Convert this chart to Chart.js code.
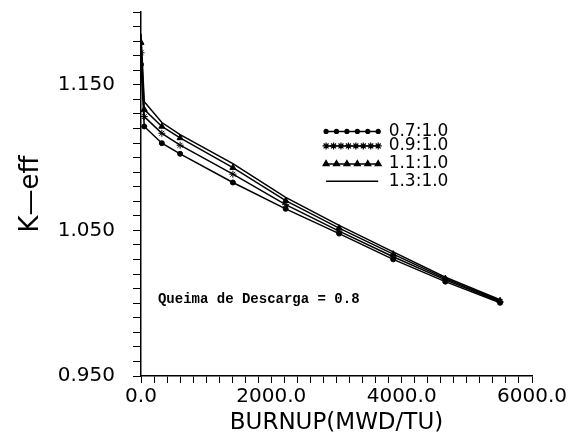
<!DOCTYPE html>
<html>
<head>
<meta charset="utf-8">
<script src="https://cdn.jsdelivr.net/npm/chart.js@4/dist/chart.umd.min.js"></script>
<style>
    body { margin: 0; background: #fff; }
    canvas { display: block; }
</style>
</head>
<body>
<canvas id="keffChart" width="581" height="439"></canvas>
<script>
// Burnup (MWD/TU) de cada punto
const burnup = [0, 50, 320, 600, 1410, 2220, 3040, 3870, 4670, 5510];

// K-eff para cada relación
const ratio07 = [1.164, 1.1214, 1.1099, 1.1026, 1.0829, 1.0648, 1.0478, 1.0301, 1.0148, 1.0003];
const ratio09 = [1.172, 1.1282, 1.1167, 1.1085, 1.0886, 1.0677, 1.0495, 1.0319, 1.0160, 1.0010];
const ratio11 = [1.179, 1.1330, 1.1214, 1.1135, 1.0931, 1.0704, 1.0516, 1.0337, 1.0169, 1.0017];
const ratio13 = [1.185, 1.1384, 1.1241, 1.1158, 1.0958, 1.0727, 1.0534, 1.0352, 1.0178, 1.0024];

const seriesLabels = ['0.7:1.0', '0.9:1.0', '1.1:1.0', '1.3:1.0'];
const yMajorLabels = [0.950, 1.050, 1.150];
const xMajorLabels = [0, 2000, 4000, 6000];
const noteText = 'Queima de Descarga = 0.8';

const toPoints = arr => arr.map((v, i) => ({ x: burnup[i], y: v }));

// Estilo común de las series
const commonDatasetConfig = {
    borderColor: '#000',
    backgroundColor: '#000',
    borderWidth: 1.5,
    pointBorderColor: '#000',
    pointBackgroundColor: '#000',
    tension: 0,
    fill: false
};

const markers = ['circle', 'star', 'triangle', false];
const markerSize = [2.5, 3.5, 3.5, 0];

// Leyenda dibujada a mano dentro del área del gráfico
const legendPlugin = {
    id: 'manualLegend',
    afterDatasetsDraw(chart) {
        const { ctx, scales: { x, y } } = chart;
        const x0 = x.getPixelForValue(2840);
        const x1 = x.getPixelForValue(3640);
        const tx = x.getPixelForValue(3800);
        const rows = [1.118, 1.108, 1.0956, 1.0837];
        ctx.save();
        rows.forEach((rv, i) => {
            const py = y.getPixelForValue(rv);
            ctx.strokeStyle = '#000';
            ctx.lineWidth = 1.5;
            ctx.beginPath();
            ctx.moveTo(x0, py);
            ctx.lineTo(x1, py);
            ctx.stroke();
            if (markers[i]) {
                const n = markers[i] === 'star' ? 8 : 6;
                for (let k = 0; k < n; k++) {
                    const px = x0 + (x1 - x0) * k / (n - 1);
                    ctx.fillStyle = '#000';
                    ctx.lineWidth = 1.2;
                    Chart.helpers.drawPoint(ctx, {
                        pointStyle: markers[i],
                        radius: markers[i] === 'circle' ? 2 : markerSize[i],
                        rotation: 0,
                        borderWidth: 1.2
                    }, px, py);
                    if (markers[i] !== 'star') ctx.fill();
                }
            }
            ctx.fillStyle = '#000';
            ctx.font = '17px "DejaVu Sans"';
            ctx.textBaseline = 'middle';
            ctx.textAlign = 'left';
            ctx.fillText(seriesLabels[i], tx, py);
        });
        ctx.restore();
    }
};

// Nota de texto
const notePlugin = {
    id: 'note',
    afterDatasetsDraw(chart) {
        const { ctx, scales: { x, y } } = chart;
        ctx.save();
        ctx.fillStyle = '#000';
        ctx.font = 'bold 14px "Liberation Mono"';
        ctx.textBaseline = 'middle';
        ctx.textAlign = 'left';
        ctx.fillText(noteText, x.getPixelForValue(260), y.getPixelForValue(1.0024));
        ctx.restore();
    }
};

const isMajor = (v, list) => list.some(m => Math.abs(v - m) < 1e-6);

new Chart(document.getElementById('keffChart').getContext('2d'), {
    type: 'line',
    data: {
        datasets: [ratio07, ratio09, ratio11, ratio13].map((arr, i) => ({
            label: seriesLabels[i],
            data: toPoints(arr),
            pointStyle: markers[i],
            pointRadius: markerSize[i],
            pointBorderWidth: 1,
            ...commonDatasetConfig
        }))
    },
    options: {
        responsive: false,
        animation: false,
        layout: {
            padding: { top: 12, right: 49, left: 0, bottom: 0 }
        },
        plugins: {
            legend: { display: false },
            tooltip: { enabled: false }
        },
        scales: {
            x: {
                type: 'linear',
                min: 0,
                max: 6000,
                afterFit: scale => {
                    scale.height = 63;
                    scale.paddingLeft = 0;
                    scale.paddingRight = 0;
                },
                ticks: {
                    stepSize: 200,
                    autoSkip: false,
                    maxRotation: 0,
                    padding: 2,
                    color: '#000',
                    font: { family: 'DejaVu Sans', size: 20 },
                    callback: v => isMajor(v, xMajorLabels) ? v.toFixed(1) : ''
                },
                grid: {
                    drawOnChartArea: false,
                    tickLength: 7,
                    tickColor: '#000',
                    tickWidth: 1
                },
                border: { color: '#000', width: 1.5 },
                title: {
                    display: true,
                    text: 'BURNUP(MWD/TU)',
                    color: '#000',
                    font: { family: 'DejaVu Sans', size: 23 },
                    padding: { top: 0, bottom: 2 }
                }
            },
            y: {
                min: 0.95,
                max: 1.20,
                afterFit: scale => {
                    scale.width = 141;
                    scale.paddingTop = 0;
                    scale.paddingBottom = 0;
                },
                ticks: {
                    stepSize: 0.01,
                    autoSkip: false,
                    padding: 18,
                    color: '#000',
                    font: { family: 'DejaVu Sans', size: 20 },
                    callback: v => isMajor(v, yMajorLabels) ? v.toFixed(3) : ''
                },
                grid: {
                    drawOnChartArea: false,
                    tickLength: 8,
                    tickColor: '#000',
                    tickWidth: 1
                },
                border: { color: '#000', width: 1.5 },
                title: {
                    display: true,
                    text: 'K\u2014eff',
                    color: '#000',
                    font: { family: 'DejaVu Sans', size: 26 },
                    padding: { top: 16, bottom: 0 }
                }
            }
        }
    },
    plugins: [legendPlugin, notePlugin]
});
</script>
</body>
</html>
